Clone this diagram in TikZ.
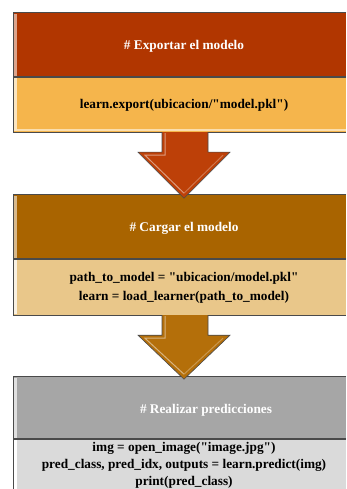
\documentclass[tikz,border=0pt]{standalone}
\usepackage{fontspec}
\setmainfont{Liberation Serif}[Ligatures=TeXOff]
\usetikzlibrary{calc}

\definecolor{hdrA}{HTML}{B13600}
\definecolor{bodyA}{HTML}{F5B54C}
\definecolor{hdrB}{HTML}{A96400}
\definecolor{bodyB}{HTML}{E9C78A}
\definecolor{hdrC}{HTML}{A6A6A6}
\definecolor{bodyC}{HTML}{DADADA}
\definecolor{arrA}{HTML}{BD4008}
\definecolor{arrB}{HTML}{B46F0A}
\definecolor{edge}{HTML}{4A4A4A}

\tikzset{
  panel/.style={inner sep=0pt, minimum width=333pt, anchor=west},
  label/.style={font=\bfseries\fontsize{13.3}{18}\selectfont, align=center, inner sep=0pt},
  headlabel/.style={label, text=white},
  blockarrow/.style={draw=edge, line width=0.6pt, line join=miter},
  rim/.style={draw=edge, line width=0.7pt},
}

% open frame (top, left, bottom) and left sheen of a panel running off the right side
\newcommand{\panelrim}[2]{%
  \draw[rim] (#1.north east) -- (#1.north west) -- (#1.south west) -- (#1.south east);
  \draw[#2, line width=2.4pt] ($(#1.north west)+(2.6,1.5)$) -- ($(#1.south west)+(2.6,-1.5)$);}

% block arrow hanging below panel #1 at x=#4, tip at depth #2, colour #3
\newcommand{\blockarrow}[4]{%
  \coordinate (#1-s) at (#4,0 |- #1.south);
  \filldraw[blockarrow, fill=#3]
    ($(#1-s)+(-23,0)$) -- ($(#1-s)+(-23,20)$) -- ($(#1-s)+(-47,20)$)
    -- ($(#1-s)+(-1,#2)$) -- ($(#1-s)+(45,20)$) -- ($(#1-s)+(23,20)$)
    -- ($(#1-s)+(23,0)$);
  \draw[#3!40!white, line width=1pt, opacity=0.8]
    ($(#1-s)+(-20,1)$) -- ($(#1-s)+(-20,23)$) -- ($(#1-s)+(-40,23)$) -- ($(#1-s)+(-1,#2-5)$);
  \draw[#3!60!white, line width=1pt, opacity=0.7]
    ($(#1-s)+(-1,#2-5)$) -- ($(#1-s)+(38,23)$);
}

\begin{document}
\begin{tikzpicture}[x=1pt,y=-1pt]
\useasboundingbox[fill=white] (0,0) rectangle (346,489);
\clip (0,0) rectangle (346,489);

% first stage: export
\node[panel, fill=hdrA, minimum height=64pt] (h1) at (13,45) {};
\node[panel, fill=bodyA, minimum height=55pt] (b1) at (13,104.5) {};
\node[headlabel] (t1) at (184,46) {\# Exportar el modelo};
\node[label] (u1) at (184,105) {learn.export(ubicacion/"model.pkl")};
\panelrim{h1}{hdrA!45!white}
\panelrim{b1}{bodyA!35!white}
\draw[bodyA!45!white, line width=2pt] ($(b1.south west)+(4,-2)$) -- ($(b1.south east)+(0,-2)$);

% second stage: load
\node[panel, fill=hdrB, minimum height=64pt] (h2) at (13,227) {};
\node[panel, fill=bodyB, minimum height=56pt] (b2) at (13,287) {};
\node[headlabel] (t2) at (184,228) {\# Cargar el modelo};
\node[label, font=\bfseries\fontsize{13.3}{19}\selectfont] (u2) at (184,287.5)
  {path\_to\_model = "ubicacion/model.pkl"\\learn = load\_learner(path\_to\_model)};
\panelrim{h2}{hdrB!45!white}
\panelrim{b2}{bodyB!25!white}

% third stage: predict
\node[panel, fill=hdrC, minimum height=62pt] (h3) at (13,408) {};
\node[panel, fill=bodyC, minimum height=70pt] (b3) at (13,474) {};
\node[headlabel] (t3) at (206,410) {\# Realizar predicciones};
\node[label, font=\bfseries\fontsize{13.3}{17}\selectfont] (u3) at (184,465)
  {img = open\_image("image.jpg")\\pred\_class, pred\_idx, outputs = learn.predict(img)\\print(pred\_class)};
\panelrim{h3}{hdrC!35!white}
\panelrim{b3}{white}

% arrows between the stages
\blockarrow{b1}{66}{arrA}{185}
\blockarrow{b2}{64}{arrB}{185}
\end{tikzpicture}
\end{document}
